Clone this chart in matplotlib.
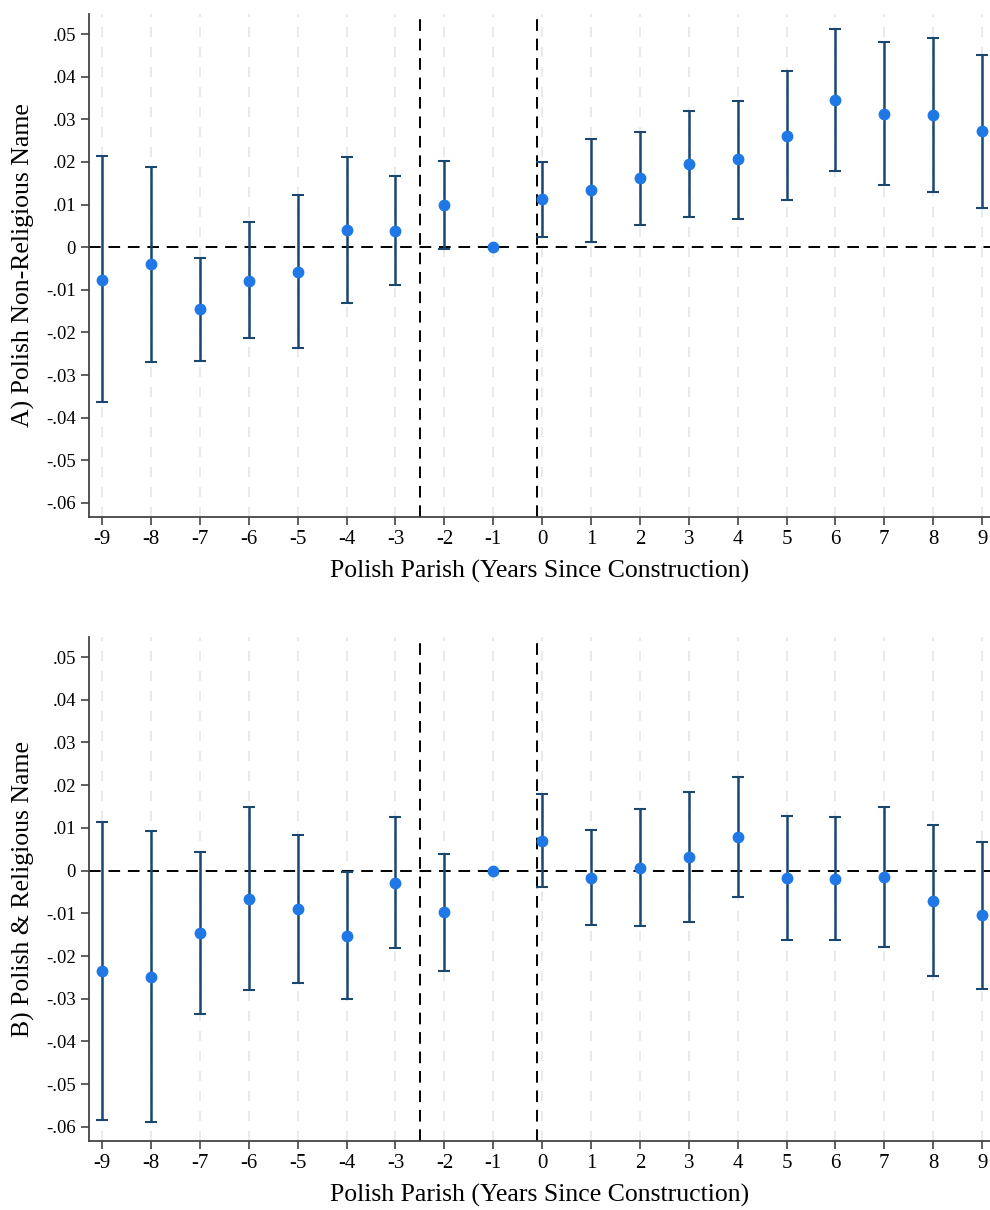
import numpy as np
import matplotlib
matplotlib.use('Agg')
import matplotlib.pyplot as plt

# event time (years since construction)
years = [-9, -8, -7, -6, -5, -4, -3, -2, -1, 0, 1, 2, 3, 4, 5, 6, 7, 8, 9]

# A) Polish non-religious name
coef_a = [-0.0076, -0.0040, -0.0146, -0.0079, -0.0057, 0.0040, 0.0038, 0.0099, 0.0,
          0.0113, 0.0134, 0.0162, 0.0196, 0.0206, 0.0262, 0.0346, 0.0313, 0.0309, 0.0272]
lo_a = [-0.0363, -0.0269, -0.0268, -0.0213, -0.0236, -0.0131, -0.0088, -0.0004, 0.0,
        0.0024, 0.0013, 0.0052, 0.0071, 0.0067, 0.0111, 0.0178, 0.0145, 0.0129, 0.0093]
hi_a = [0.0213, 0.0188, -0.0025, 0.0059, 0.0123, 0.0212, 0.0167, 0.0203, 0.0,
        0.0200, 0.0254, 0.0271, 0.0320, 0.0344, 0.0414, 0.0513, 0.0482, 0.0490, 0.0451]

# B) Polish & religious name
coef_b = [-0.0235, -0.0248, -0.0146, -0.0066, -0.0090, -0.0153, -0.0028, -0.0097, 0.0,
          0.0070, -0.0017, 0.0006, 0.0031, 0.0079, -0.0017, -0.0019, -0.0015, -0.0070, -0.0104]
lo_b = [-0.0583, -0.0589, -0.0336, -0.0280, -0.0263, -0.0301, -0.0181, -0.0234, 0.0,
        -0.0039, -0.0128, -0.0130, -0.0121, -0.0061, -0.0162, -0.0163, -0.0178, -0.0247, -0.0276]
hi_b = [0.0114, 0.0093, 0.0044, 0.0149, 0.0083, -0.0003, 0.0125, 0.0039, 0.0,
        0.0179, 0.0096, 0.0144, 0.0185, 0.0219, 0.0127, 0.0126, 0.0150, 0.0106, 0.0068]

y_ticks = [0.05, 0.04, 0.03, 0.02, 0.01, 0, -0.01, -0.02, -0.03, -0.04, -0.05, -0.06]
y_labels = ['.05', '.04', '.03', '.02', '.01', '0', '-.01', '-.02', '-.03', '-.04', '-.05', '-.06']

plt.rcParams['font.family'] = ['Liberation Serif', 'DejaVu Serif']

fig = plt.figure(figsize=(9.9, 12.1), dpi=100)
ax_a = fig.add_axes([0.0899, 0.5727, 0.91, 0.4157])
ax_b = fig.add_axes([0.0899, 0.0570, 0.91, 0.4166])


def draw_panel(ax, coef, lo, hi, ylabel):
    x = np.array(years)
    c = np.array(coef)
    err = np.vstack([c - np.array(lo), np.array(hi) - c])
    has_ci = x != -1
    for xv in years:
        ax.axvline(xv, color='#e6e6e6', lw=1.2, ls=(0, (6, 6)), zorder=0)
    ax.axhline(0, color='black', lw=1.4, ls=(0, (6, 4)), zorder=1)
    ax.axvline(-2.5, color='black', lw=1.4, ls=(0, (6, 4)), zorder=1)
    ax.axvline(-0.1, color='black', lw=1.4, ls=(0, (6, 4)), zorder=1)
    ax.errorbar(x[has_ci], c[has_ci], yerr=err[:, has_ci], fmt='none',
                ecolor='#1a476f', elinewidth=1.8, capsize=4, capthick=1.5, zorder=2)
    ax.plot(x, c, 'o', color='#1f78e6', ms=7.5, zorder=3)

    ax.set_xlim(-9.27, 9.16)
    ax.set_ylim(-0.0633, 0.0547)
    ax.set_xticks(years)
    ax.set_xticklabels([str(v) for v in years], fontsize=15)
    ax.set_yticks(y_ticks)
    ax.set_yticklabels(y_labels, fontsize=13.5)
    for s in ['top', 'right']:
        ax.spines[s].set_visible(False)
    for s in ['left', 'bottom']:
        ax.spines[s].set_color('#444444')
        ax.spines[s].set_linewidth(1.3)
    ax.tick_params(colors='#444444', labelcolor='black', length=6, width=1.2)
    ax.set_xlabel('Polish Parish (Years Since Construction)', fontsize=18.5, labelpad=8)
    ax.set_ylabel(ylabel, fontsize=18.5, labelpad=8)


draw_panel(ax_a, coef_a, lo_a, hi_a, 'A) Polish Non-Religious Name')
draw_panel(ax_b, coef_b, lo_b, hi_b, 'B) Polish & Religious Name')

fig.savefig('out.png', dpi=100)
